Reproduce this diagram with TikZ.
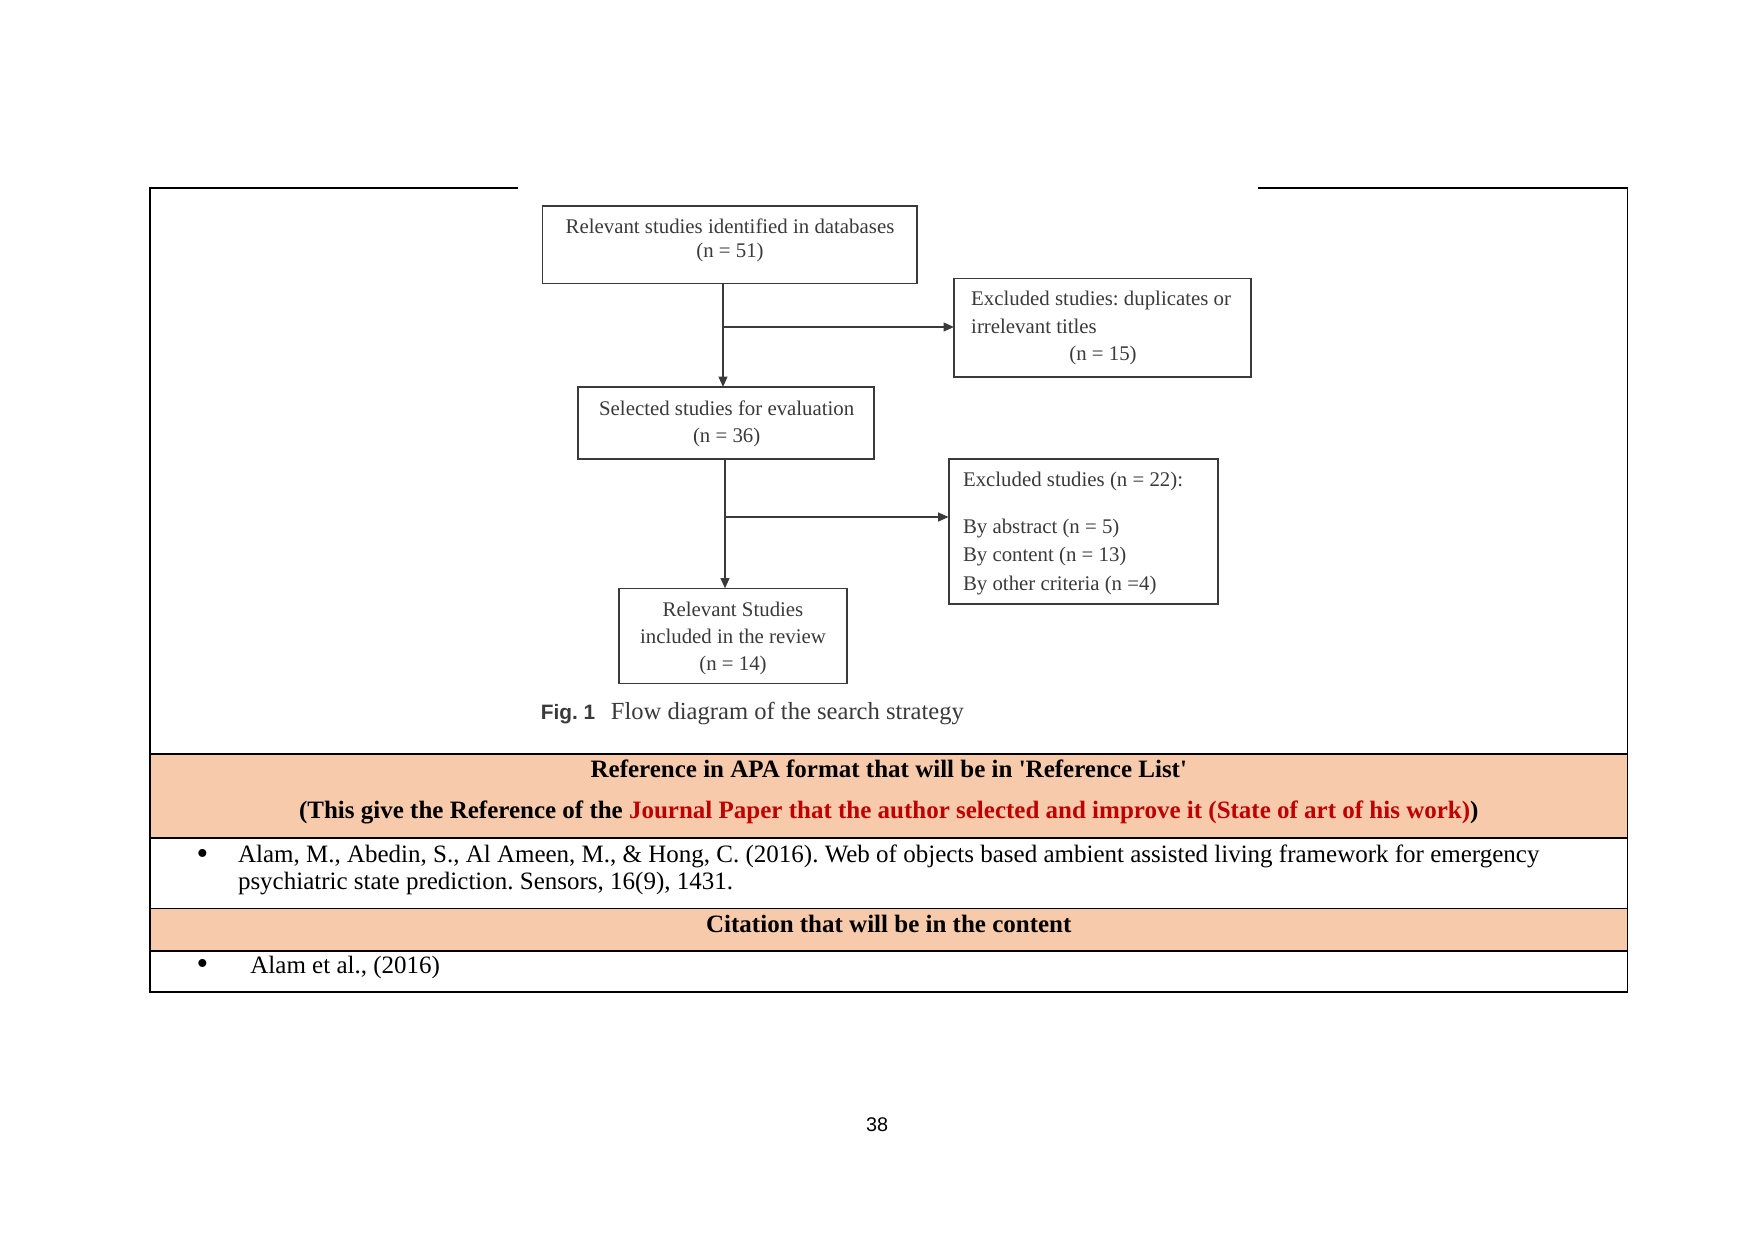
\documentclass[tikz,border=0pt]{standalone}
\usepackage{fontspec}
\setmainfont{Liberation Serif}
\newfontfamily\qfont{Liberation Serif}
\newfontfamily\arialfont{Liberation Sans}
\usetikzlibrary{arrows.meta}
\definecolor{rowfill}{HTML}{F7CAAC}
\definecolor{redtxt}{HTML}{C00000}
\definecolor{diag}{HTML}{3A3A3A}
\frenchspacing
\begin{document}
\begin{tikzpicture}[x=0.48pt,y=-0.48pt,
  fbox/.style={draw=diag, line width=0.9pt, inner sep=0pt, outer sep=0pt, rectangle},
  ftxt/.style={text=diag, font=\fontsize{10}{12}\selectfont, inner sep=0pt, anchor=base},
  ftxtl/.style={ftxt, anchor=base west},
  flow/.style={draw=diag, line width=0.9pt, -{Triangle[length=5pt,width=4.2pt]}},
  tline/.style={line width=0.6pt, draw=black},
  ttxt/.style={font=\fontsize{12}{14}\selectfont, inner sep=0pt, anchor=base},
  ttxtl/.style={ttxt, anchor=base west},
  tbul/.style={font=\fontsize{16}{14}\selectfont, inner sep=0pt, anchor=base},
  thead/.style={font=\bfseries\fontsize{12}{14}\selectfont, inner sep=0pt, anchor=base},
]
\useasboundingbox[fill=white] (0,0) rectangle (1754,1241);
% table fills and rules
\fill[rowfill] (150,754) rectangle (1627.5,838);
\fill[rowfill] (150,908.5) rectangle (1627.5,951);
\draw[tline] (518,188) -- (150,188) -- (150,992) -- (1627.5,992) -- (1627.5,188) -- (1258,188);
\draw[tline] (150,754) -- (1627.5,754);
\draw[tline] (150,838) -- (1627.5,838);
\draw[tline] (150,908.5) -- (1627.5,908.5);
\draw[tline] (150,951) -- (1627.5,951);
% flow diagram boxes
\node[fbox, minimum width={374.5*0.48pt}, minimum height={77.5*0.48pt}] (b1) at (729.75,244.75) {};
\node[fbox, minimum width={296.6*0.48pt}, minimum height={98.5*0.48pt}] (e1) at (1102.3,327.75) {};
\node[fbox, minimum width={295.6*0.48pt}, minimum height={71.6*0.48pt}] (b2) at (725.8,422.8) {};
\node[fbox, minimum width={269.4*0.48pt}, minimum height={145.4*0.48pt}] (e2) at (1083.3,531.3) {};
\node[fbox, minimum width={228.2*0.48pt}, minimum height={95.1*0.48pt}] (b3) at (732.7,636) {};
% flow texts
\node[ftxt] (b1t1) at (730,233.3) {Relevant studies identified in databases};
\node[ftxt] (b1t2) at (730,257.3) {(n = 51)};
\node[ftxtl] (e1t1) at (970.8,305) {Excluded studies: duplicates or};
\node[ftxtl] (e1t2) at (970.8,333.3) {irrelevant titles};
\node[ftxt] (e1t3) at (1103,360.7) {(n = 15)};
\node[ftxt] (b2t1) at (726.7,415) {Selected studies for evaluation};
\node[ftxt] (b2t2) at (726.7,442.7) {(n = 36)};
\node[ftxtl] (e2t1) at (962.6,486.7) {Excluded studies (n = 22):};
\node[ftxtl] (e2t2) at (962.6,533.3) {By abstract (n = 5)};
\node[ftxtl] (e2t3) at (962.6,561.7) {By content (n = 13)};
\node[ftxtl] (e2t4) at (962.6,590) {By other criteria (n =4)};
\node[ftxt] (b3t1) at (733,616) {Relevant Studies};
\node[ftxt] (b3t2) at (733,643.3) {included in the review};
\node[ftxt] (b3t3) at (733,670.7) {(n = 14)};
\node[inner sep=0pt, anchor=base west, text=diag, font=\arialfont\bfseries\fontsize{10}{12}\selectfont] (capa) at (540.5,719) {Fig. 1};
\node[inner sep=0pt, anchor=base west, text=diag, font=\fontsize{11.8}{13}\selectfont] (capb) at (610.5,719) {Flow diagram of the search strategy};
% connectors
\coordinate (j1) at (723,327);
\coordinate (j2) at (725,517);
\draw[flow] (b1.south -| j1) -- (b2.north -| j1);
\draw[flow] (j1) -- (j1 -| e1.west);
\draw[flow] (b2.south -| j2) -- (b3.north -| j2);
\draw[flow] (j2) -- (j2 -| e2.west);
% table texts
\node[thead] (h1) at (888.8,777.3) {Reference in APA format that will be in {\qfont\bfseries '}Reference List{\qfont\bfseries '}};
\node[thead] (h2) at (888.8,818.7) {(This give the Reference of the \textcolor{redtxt}{Journal Paper that the author selected and improve it (State of art of his work)})};
\node[tbul] (bul1) at (202.5,864) {•};
\node[ttxtl] (r1a) at (237.6,862.7) {Alam, M., Abedin, S., Al Ameen, M., \& Hong, C. (2016). Web of objects based ambient assisted living framework for emergency};
\node[ttxtl] (r1b) at (237.6,889) {psychiatric state prediction. Sensors, 16(9), 1431.};
\node[thead] (h3) at (888.8,932.3) {Citation that will be in the content};
\node[tbul] (bul2) at (202.5,974.6) {•};
\node[ttxtl] (c1) at (250,973.3) {Alam et al., (2016)};
\node[inner sep=0pt, anchor=base, font=\arialfont\fontsize{9.5}{11}\selectfont] (pg) at (877,1131.7) {38};
\end{tikzpicture}
\end{document}
